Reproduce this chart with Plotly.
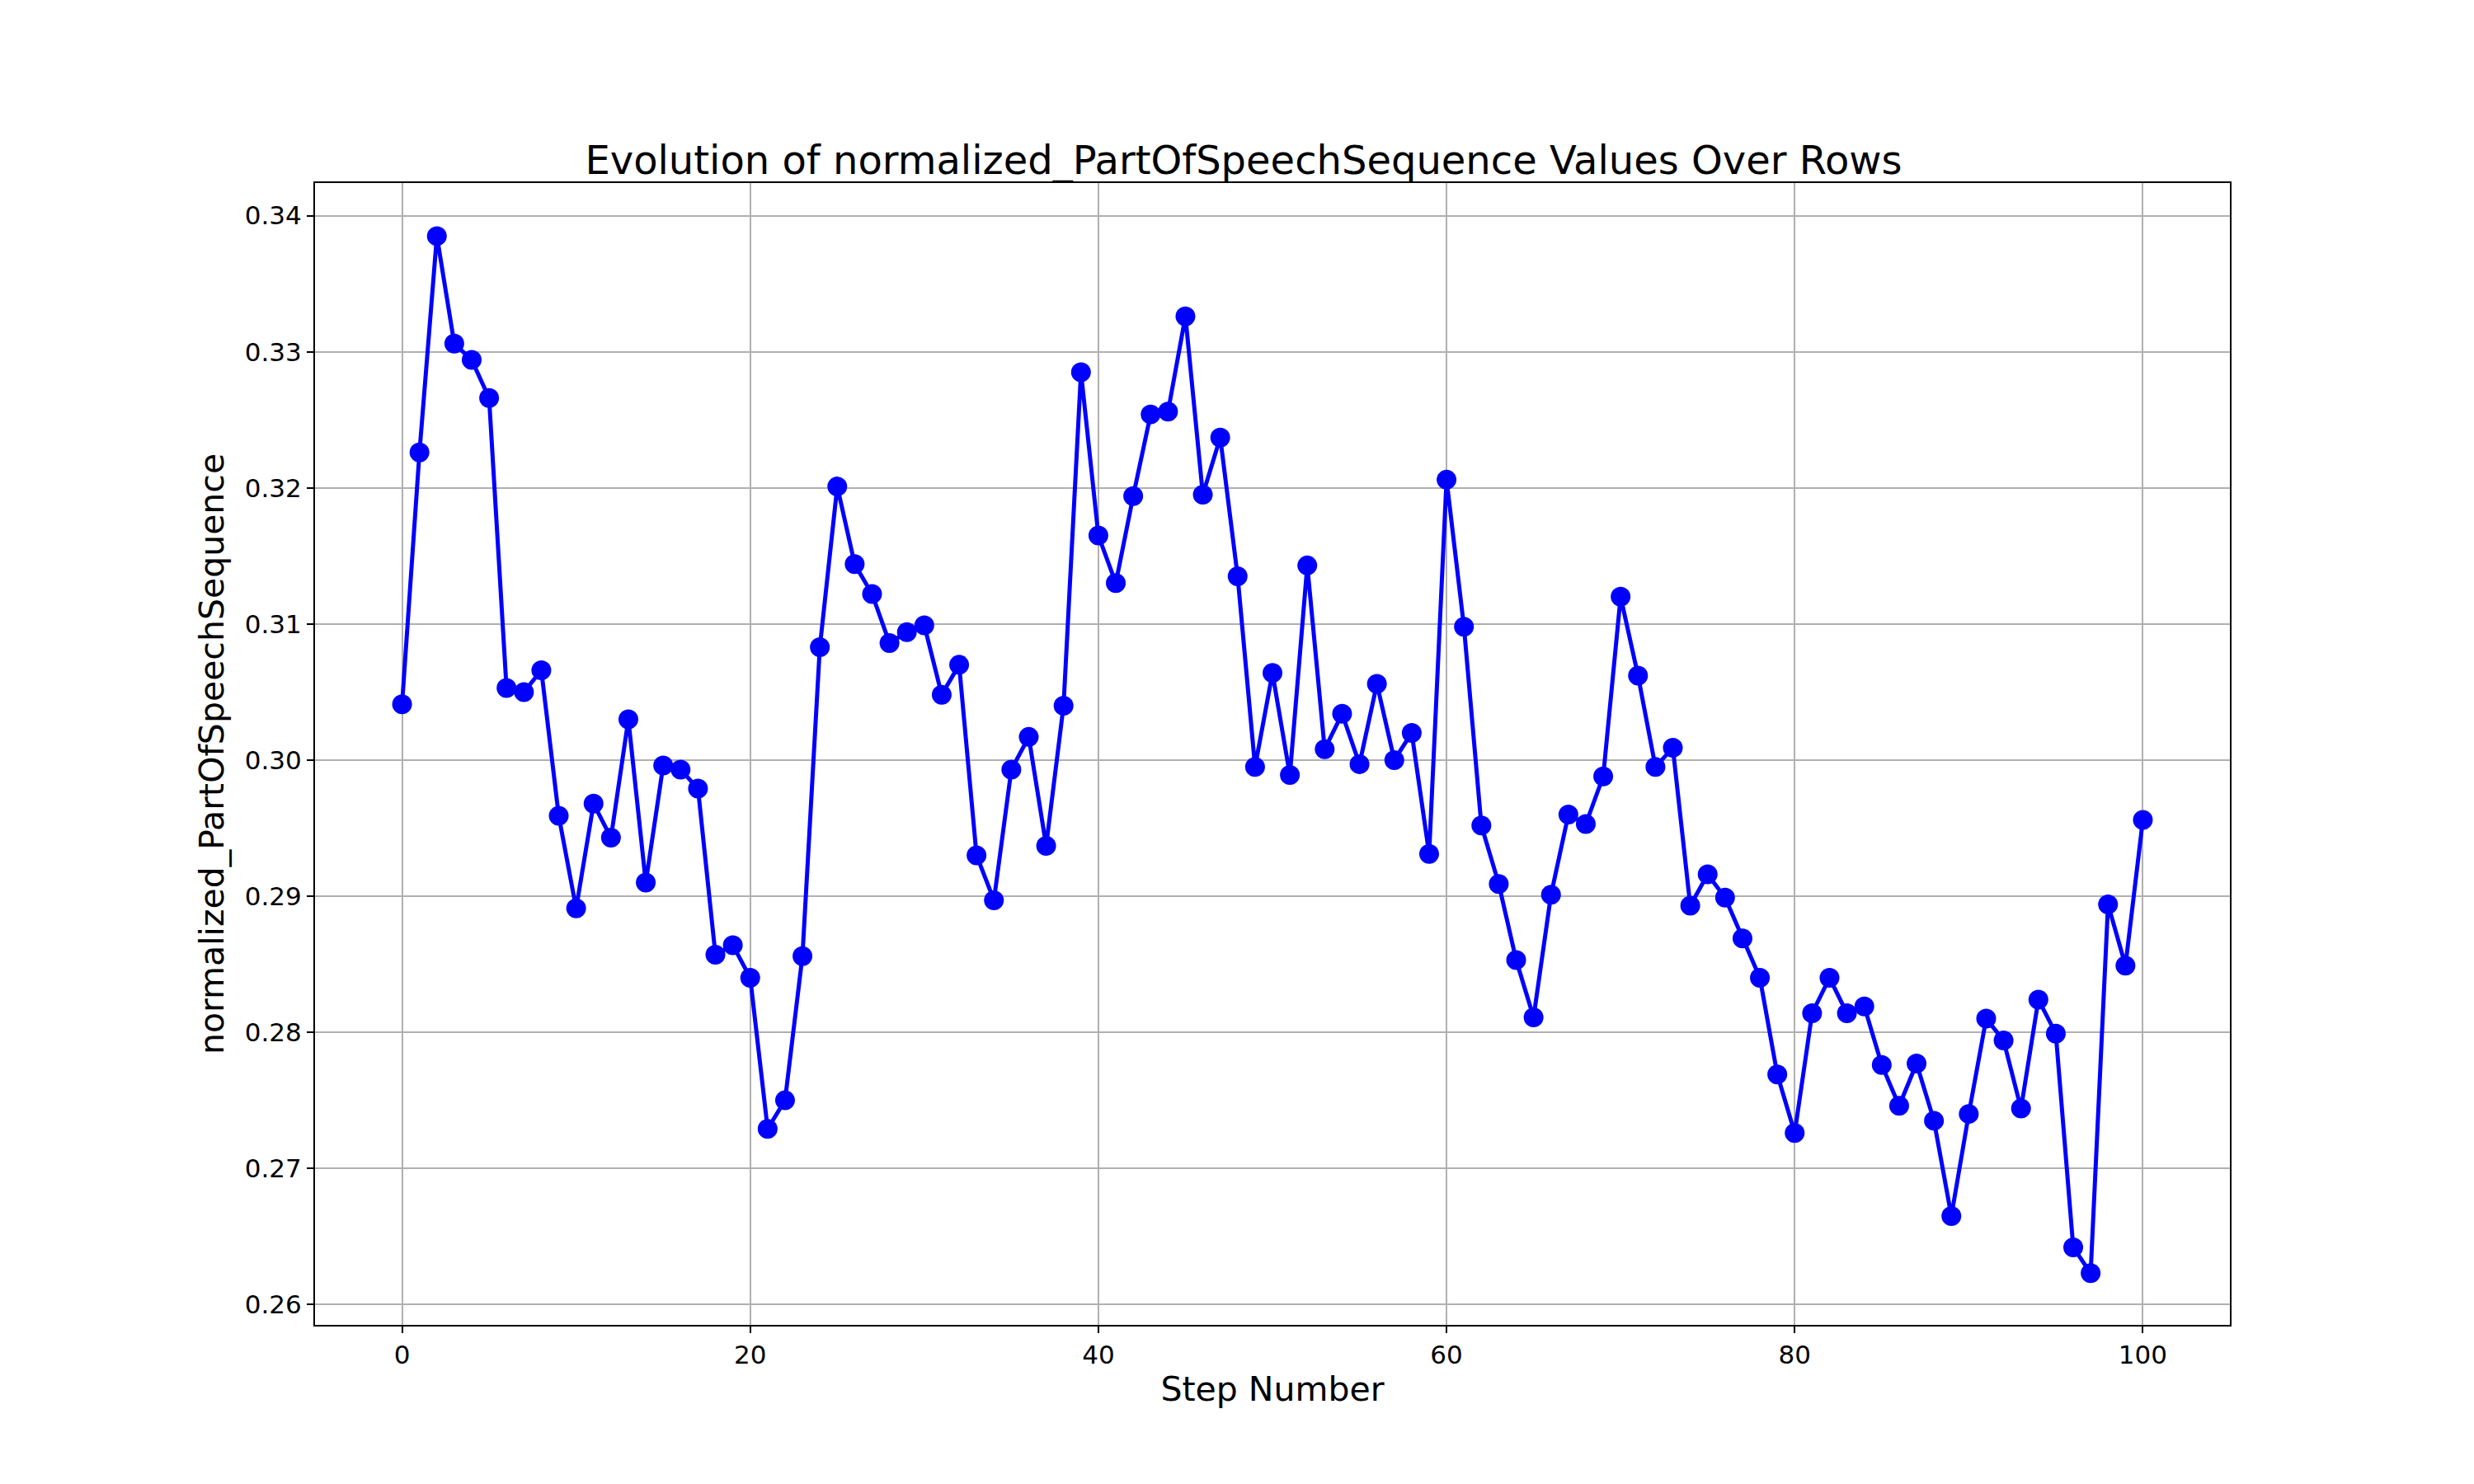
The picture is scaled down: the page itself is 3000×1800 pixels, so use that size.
import plotly.graph_objects as go

steps = list(range(101))
values = [
    0.3041, 0.3226, 0.3385, 0.3306, 0.3294, 0.3266, 0.3053, 0.3050, 0.3066, 0.2959,
    0.2891, 0.2968, 0.2943, 0.3030, 0.2910, 0.2996, 0.2993, 0.2979, 0.2857, 0.2864,
    0.2840, 0.2729, 0.2750, 0.2856, 0.3083, 0.3201, 0.3144, 0.3122, 0.3086, 0.3094,
    0.3099, 0.3048, 0.3070, 0.2930, 0.2897, 0.2993, 0.3017, 0.2937, 0.3040, 0.3285,
    0.3165, 0.3130, 0.3194, 0.3254, 0.3256, 0.3326, 0.3195, 0.3237, 0.3135, 0.2995,
    0.3064, 0.2989, 0.3143, 0.3008, 0.3034, 0.2997, 0.3056, 0.3000, 0.3020, 0.2931,
    0.3206, 0.3098, 0.2952, 0.2909, 0.2853, 0.2811, 0.2901, 0.2960, 0.2953, 0.2988,
    0.3120, 0.3062, 0.2995, 0.3009, 0.2893, 0.2916, 0.2899, 0.2869, 0.2840, 0.2769,
    0.2726, 0.2814, 0.2840, 0.2814, 0.2819, 0.2776, 0.2746, 0.2777, 0.2735, 0.2665,
    0.2740, 0.2810, 0.2794, 0.2744, 0.2824, 0.2799, 0.2642, 0.2623, 0.2894, 0.2849,
    0.2956,
]

fig = go.Figure()
fig.add_trace(go.Scatter(x=steps, y=values, mode="lines+markers",
                         line=dict(color="blue", width=5),
                         marker=dict(color="blue", size=24)))

axis_style = dict(showline=True, linecolor="black", linewidth=2, mirror=True,
                  showgrid=True, gridcolor="#b0b0b0", gridwidth=1.5,
                  ticks="outside", ticklen=8, tickwidth=2, tickcolor="black",
                  zeroline=False, tickfont=dict(size=31, color="black"))

fig.update_layout(
    width=3000, height=1800,
    plot_bgcolor="white", paper_bgcolor="white",
    font=dict(family="DejaVu Sans", color="black"),
    title=dict(text="Evolution of normalized_PartOfSpeechSequence Values Over Rows",
               x=0.5, xanchor="center", y=0.887, yanchor="bottom", font=dict(size=48)),
    margin=dict(l=374, r=304, t=214, b=201),
    showlegend=False,
)
fig.update_xaxes(title=dict(text="Step Number", font=dict(size=41), standoff=10),
                 range=[-5, 105], tickvals=[0, 20, 40, 60, 80, 100], **axis_style)
fig.update_yaxes(title=dict(text="normalized_PartOfSpeechSequence", font=dict(size=41), standoff=12),
                 range=[0.2585, 0.3424], dtick=0.01, tickformat=".2f", **axis_style)

fig.write_html("out.html")
